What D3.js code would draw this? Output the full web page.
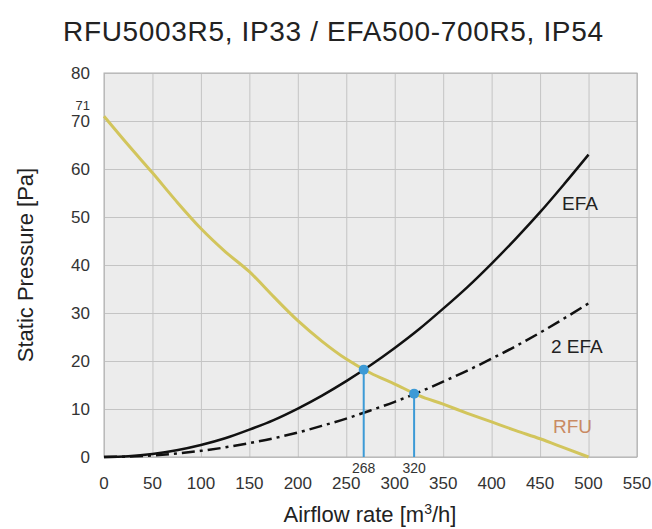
<!DOCTYPE html>
<html>
<head>
<meta charset="utf-8">
<script src="https://cdn.jsdelivr.net/npm/d3@7"></script>
<style>
  body { margin: 0; background: #fff; }
  text { font-family: Arial, "Liberation Sans", sans-serif; }
</style>
</head>
<body>
<script>
const width = 652;
const height = 529;

// airflow points (m3/h) for the curves
const flow = [0, 25, 50, 75, 100, 125, 150, 175, 200, 225, 250, 275, 300, 325, 350, 375, 400, 425, 450, 475, 500];
const rfu = [71, 65.0, 59.2, 53.2, 47.6, 42.8, 38.6, 33.4, 28.4, 24.1, 20.4, 17.5, 15.2, 12.8, 11.0, 9.1, 7.3, 5.5, 3.8, 1.9, 0];
const efa = [0, 0.16, 0.63, 1.4, 2.5, 3.9, 5.7, 7.7, 10.1, 12.8, 15.8, 19.1, 22.7, 26.6, 30.9, 35.4, 40.3, 45.5, 51.0, 56.9, 63.0];
const efa2 = [0, 0.08, 0.32, 0.72, 1.28, 2.0, 2.9, 3.9, 5.1, 6.5, 8.0, 9.7, 11.5, 13.5, 15.7, 18.0, 20.5, 23.1, 25.9, 28.9, 32.0];

// operating points
const opFlow = [268, 320];
const opPressure = [18.2, 13.2];

const xTicks = [0, 50, 100, 150, 200, 250, 300, 350, 400, 450, 500, 550];
const yTicks = [0, 10, 20, 30, 40, 50, 60, 70, 80];

const x = d3.scaleLinear().domain([0, 550]).range([104, 637]);
const y = d3.scaleLinear().domain([0, 80]).range([457, 73]);

const svg = d3.select('body').append('svg')
    .attr('width', width)
    .attr('height', height);

// plot background
svg.append('rect')
    .attr('x', x(0)).attr('y', y(80))
    .attr('width', x(550) - x(0)).attr('height', y(0) - y(80))
    .style('fill', '#ececec');

// grid
svg.append('g')
    .attr('transform', `translate(0,${y(0)})`)
    .call(d3.axisBottom(x).tickValues(xTicks).tickSize(-(y(0) - y(80))).tickFormat(''))
    .call(g => g.select('.domain').remove())
    .call(g => g.selectAll('line').style('stroke', '#c4c4c4').style('stroke-width', 1));
svg.append('g')
    .attr('transform', `translate(${x(0)},0)`)
    .call(d3.axisLeft(y).tickValues(yTicks).tickSize(-(x(550) - x(0))).tickFormat(''))
    .call(g => g.select('.domain').remove())
    .call(g => g.selectAll('line').style('stroke', '#c4c4c4').style('stroke-width', 1));

svg.append('rect')
    .attr('x', x(0)).attr('y', y(80))
    .attr('width', x(550) - x(0)).attr('height', y(0) - y(80))
    .style('fill', 'none').style('stroke', '#b0b0b0');

// tick labels
svg.append('g').selectAll('text')
    .data(xTicks).join('text')
    .attr('x', d => x(d)).attr('y', 489)
    .attr('text-anchor', 'middle')
    .style('font-size', '17px').style('fill', '#333')
    .text(d => d);
svg.append('g').selectAll('text')
    .data(yTicks).join('text')
    .attr('x', 90).attr('y', d => y(d) + 6)
    .attr('text-anchor', 'end')
    .style('font-size', '17px').style('fill', '#333')
    .text(d => d);

svg.append('text')
    .attr('x', 90).attr('y', 110)
    .attr('text-anchor', 'end')
    .style('font-size', '13px').style('fill', '#333')
    .text('71');

// curves
const line = d3.line()
    .x(d => x(d[0]))
    .y(d => y(d[1]))
    .curve(d3.curveMonotoneX);

svg.append('path')
    .datum(d3.zip(flow, efa2))
    .attr('d', line)
    .style('fill', 'none').style('stroke', '#111').style('stroke-width', 2.5)
    .style('stroke-dasharray', '13,5,3,5');

svg.append('path')
    .datum(d3.zip(flow, efa))
    .attr('d', line)
    .style('fill', 'none').style('stroke', '#111').style('stroke-width', 2.5);

svg.append('path')
    .datum(d3.zip(flow, rfu))
    .attr('d', line)
    .style('fill', 'none').style('stroke', '#d2c55c').style('stroke-width', 3);

// operating points
const ops = d3.zip(opFlow, opPressure);
svg.append('g').selectAll('line')
    .data(ops).join('line')
    .attr('x1', d => x(d[0])).attr('x2', d => x(d[0]))
    .attr('y1', d => y(d[1]) + 4).attr('y2', y(0))
    .style('stroke', '#3c9ad6').style('stroke-width', 2);
svg.append('g').selectAll('circle')
    .data(ops).join('circle')
    .attr('cx', d => x(d[0])).attr('cy', d => y(d[1]))
    .attr('r', 5)
    .style('fill', '#3c9ad6');
svg.append('g').selectAll('text')
    .data(opFlow).join('text')
    .attr('x', d => x(d)).attr('y', 473)
    .attr('text-anchor', 'middle')
    .style('font-size', '14px').style('fill', '#333')
    .text(d => d);

// curve labels
svg.append('text').attr('x', 562).attr('y', 210)
    .style('font-size', '19px').style('fill', '#222').text('EFA');
svg.append('text').attr('x', 551).attr('y', 353)
    .style('font-size', '19px').style('fill', '#222').text('2 EFA');
svg.append('text').attr('x', 553).attr('y', 433)
    .style('font-size', '19px').style('fill', '#c98a63').text('RFU');

// titles
svg.append('text')
    .attr('x', 333).attr('y', 41)
    .attr('text-anchor', 'middle')
    .attr('textLength', 540)
    .style('font-size', '28px').style('fill', '#222')
    .text('RFU5003R5, IP33 / EFA500-700R5, IP54');

const xt = svg.append('text')
    .attr('x', 370).attr('y', 522)
    .attr('text-anchor', 'middle')
    .style('font-size', '22px').style('fill', '#222');
xt.append('tspan').text('Airflow rate [m');
xt.append('tspan').attr('dy', -8).style('font-size', '14px').text('3');
xt.append('tspan').attr('dy', 8).text('/h]');

svg.append('text')
    .attr('transform', `translate(33,${(y(0) + y(80)) / 2}) rotate(-90)`)
    .attr('text-anchor', 'middle')
    .style('font-size', '22px').style('fill', '#222')
    .text('Static Pressure [Pa]');
</script>
</body>
</html>
